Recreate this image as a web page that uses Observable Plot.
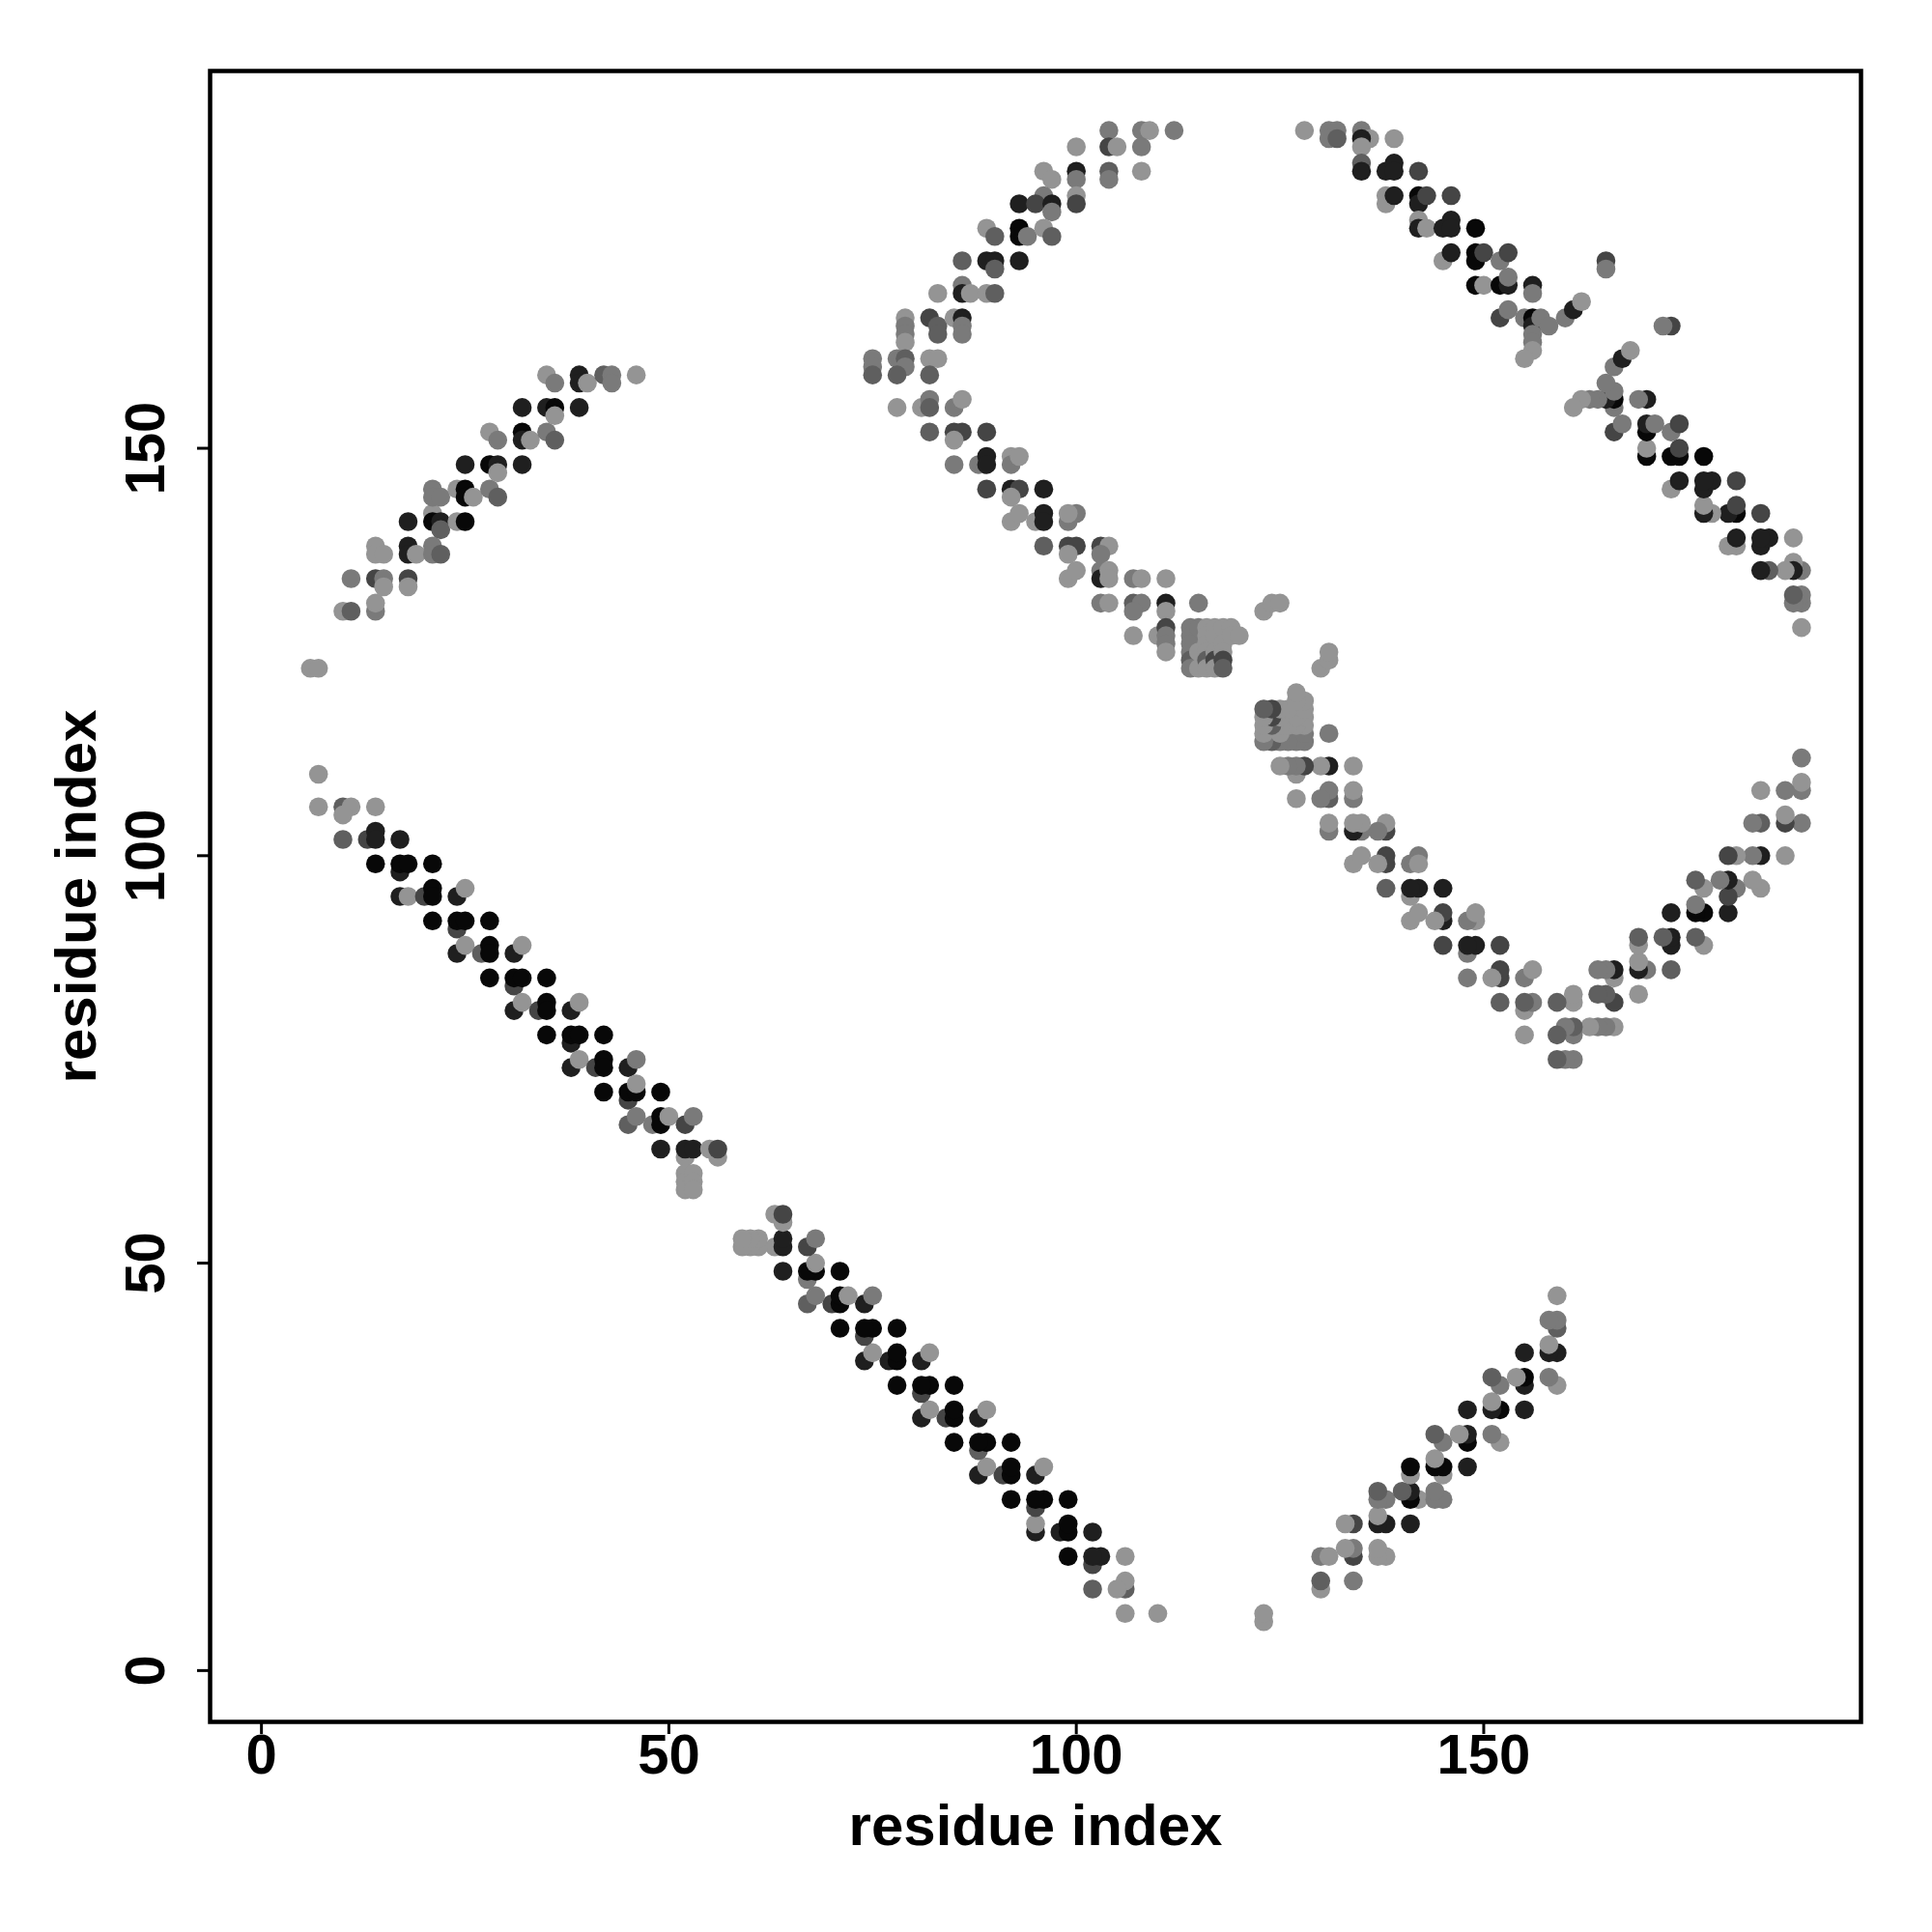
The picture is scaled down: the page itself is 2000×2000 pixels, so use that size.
<!DOCTYPE html>
<html><head><meta charset="utf-8">
<script src="https://cdn.jsdelivr.net/npm/d3@7"></script>
<script src="https://cdn.jsdelivr.net/npm/@observablehq/plot@0.6"></script>
<style>body{margin:0;background:#fff}</style>
</head><body><div id="chart"></div>
<script>
// shade levels (0 = light gray, 1 = black)
const L = 0.03, G = 0.2, M = 0.38, D = 0.55, V = 0.8, K = 0.95;

// contact pairs [residue i, residue j, shade]; each pair is drawn at (i,j) and (j,i)
const bandA = [
  [7,110,L],
  [7,106,L],[10,106,M],[11,106,L],[14,106,L],[10,105,L],
  [10,102,M],[13,102,D],[14,103,V],[14,102,V],[17,102,V],
  [17,98,V],[14,99,K],[17,99,K],[18,99,K],[21,99,K],
  [17,95,V],[18,95,L],[20,95,D],[21,96,K],[21,95,K],[24,95,V],[25,96,L],
  [24,91,D],[21,92,K],[24,92,K],[25,92,K],[28,92,K],
  [24,88,V],[25,89,L],[27,88,M],[28,89,K],[28,88,K],[31,88,V],[32,89,L],
  [31,84,D],[28,85,K],[31,85,K],[32,85,K],[35,85,K],
  [31,81,V],[32,82,L],[34,81,D],[35,82,K],[35,81,K],[38,81,V],[39,82,L],
  [38,77,V],[35,78,K],[38,78,K],[39,78,K],[42,78,K],
  [38,74,V],[39,75,L],[41,74,D],[42,75,K],[42,74,K],[45,74,V],[46,75,G],
  [45,70,D],[42,71,K],[45,71,K],[46,71,K],[49,71,K],[46,72,L],
  [45,67,M],[46,68,G],[48,67,G],[49,68,K],[49,67,K],[50,68,L],[52,67,D],[53,68,G],
  [52,63,L],[56,63,L],[49,64,V],[52,64,V],[53,64,V],[55,64,L],[56,64,D],
  [52,61,L],[52,60,L],[52,59,L],[53,61,L],[53,60,L],[53,59,L]
];
const arcB = [
  [6,123,L],[7,123,L],
  [10,130,L],[11,130,M],[14,130,G],[14,131,L],
  [11,134,G],[14,134,D],[15,134,G],[15,133,L],[18,134,D],[18,133,L],
  [14,138,L],[14,137,L],[15,137,L],[18,138,V],[18,137,V],[19,137,L],[21,138,G],[21,137,G],[22,137,M],
  [18,141,V],[21,142,L],[21,141,K],[22,141,V],[22,140,M],[24,141,L],[25,141,K],
  [21,145,G],[21,144,G],[22,144,G],[24,145,L],[25,145,K],[25,144,K],[26,144,L],[28,145,G],[29,144,M],
  [25,148,V],[28,148,K],[29,148,V],[29,147,L],[32,148,V],
  [28,152,L],[29,151,G],[32,152,K],[32,151,V],[33,151,L],[35,152,G],[36,151,M],
  [32,155,V],[35,155,V],[36,155,K],[36,154,L],[39,155,V],
  [35,159,L],[36,158,G],[39,159,V],[39,158,V],[40,158,L],[42,159,M],[43,159,G],[43,158,G],[46,159,L]
];
const bandC = [
  [104,189,G],[108,189,G],[109,189,L],[112,189,G],
  [100,187,L],[104,187,D],[105,187,L],[108,187,G],
  [96,184,L],[97,183,L],[100,184,V],[100,183,G],[104,184,M],[104,183,G],[108,184,L],
  [93,180,V],[96,181,G],[95,180,D],[97,180,V],[97,179,G],[100,181,L],[100,180,D],
  [89,177,L],[90,176,M],[93,177,K],[93,176,K],[94,176,G],[96,177,L],[97,176,M],
  [86,173,M],[89,173,V],[90,173,V],[90,172,M],[93,173,V],
  [83,169,L],[86,170,G],[86,169,V],[87,169,L],[89,169,L],[90,169,M],
  [79,166,L],[79,165,G],[79,164,G],[79,163,L],[82,166,D],[83,165,M],[83,164,M],[85,166,L],[86,166,V],[86,165,G],[86,164,G],
  [75,161,G],[75,160,G],[75,159,M],[78,161,G],[79,161,M],[79,160,G],[78,159,M],[82,161,L],[83,161,L],[82,159,M]
];
const bandD = [
  [78,155,L],[81,155,L],[82,156,G],[82,155,M],[85,155,G],[86,156,L],
  [82,152,M],[85,152,D],[86,152,D],[89,152,D],[85,151,L],
  [85,148,G],[88,148,G],[89,149,V],[89,148,V],[92,149,L],[92,148,G],[93,149,L],
  [89,145,D],[92,145,V],[93,145,D],[96,145,V],[92,144,L],
  [92,141,L],[93,142,L],[95,141,L],[96,142,V],[96,141,V],[99,141,G],[100,142,G],[99,142,L],
  [96,138,M],[99,138,D],[100,138,D],[103,138,D],[104,138,L],[99,137,L],[103,137,G],
  [99,134,L],[100,135,L],[103,135,G],[103,134,V],[104,135,L],[104,134,L],[107,134,G],[108,134,L],[111,134,L],
  [103,131,G],[104,131,L],[107,131,M],[108,131,G],[111,131,V],[115,131,G],[107,130,G],[111,130,L],
  [107,127,L],[110,127,L],[111,128,D],[111,127,G],[111,126,G],[111,125,L],
  [114,128,G],[114,127,G],[114,126,G],[114,125,G],[114,124,M],[114,123,G],
  [115,128,G],[115,125,L],[115,123,L],
  [116,128,L],[116,127,L],[116,126,L],[116,125,L],[116,124,M],[116,123,L],
  [117,128,L],[117,127,L],[117,125,L],[117,124,D],[117,123,L],
  [118,128,L],[118,126,L],[118,125,L],[118,124,D],[118,123,M],
  [119,128,L],[119,127,L],[120,127,L],
  [123,130,L],[124,131,L],[125,131,L]
];
const bandE = [
  [128,189,L],[131,189,G],[132,189,G],[135,189,G],[136,188,L],[139,188,L],
  [131,188,G],[132,188,M],[135,188,V],[135,187,L],
  [135,185,M],[135,184,V],[138,184,V],[139,185,V],[139,184,V],[142,184,D],
  [138,181,L],[138,180,L],[139,181,V],[142,181,K],[142,180,V],[143,181,D],[146,181,D],
  [142,178,L],[142,177,V],[143,177,L],[145,177,V],[146,178,V],[146,177,V],[149,177,K],
  [145,173,L],[146,174,V],[149,174,K],[149,173,K],[150,174,D],[152,173,G],[153,174,D],
  [149,170,K],[150,170,L],[152,170,K],[153,170,V],[153,171,G],[156,170,V],
  [165,173,D],[165,172,G],
  [156,169,G],[152,166,D],[153,167,G],[155,166,G],[156,166,K],[156,165,V],[157,166,G],
  [156,164,G],[156,163,G],[156,162,L],[155,161,L],[158,165,G],[160,166,G],[161,167,V],[162,168,L]
];

const xTicks = [0, 50, 100, 150];
const yTicks = [0, 50, 100, 150];
const xTitle = "residue index";
const yTitle = "residue index";

const pairs = [...bandA, ...arcB, ...bandC, ...bandD, ...bandE];
const points = [];
for (const [i, j, v] of pairs) {
  points.push({x: i, y: j, v});
  points.push({x: j, y: i, v});
}

const font = "'Liberation Sans', Arial, Helvetica, sans-serif";
const chart = Plot.plot({
  width: 2000, height: 2000,
  marginLeft: 217, marginRight: 74, marginTop: 73, marginBottom: 218,
  style: {fontFamily: font, fontWeight: "bold", background: "white", color: "black"},
  x: {domain: [-6.3, 196.3]},
  y: {domain: [-6.3, 196.3]},
  color: {type: "linear", domain: [0, 1], range: ["#999999", "#000000"], interpolate: "rgb"},
  marks: [
    Plot.dot(points, {x: "x", y: "y", r: 9.8, fill: "v"}),
    Plot.frame({stroke: "black", strokeWidth: 4.5}),
    Plot.axisX(xTicks, {tickSize: 13, strokeWidth: 3, tickFormat: () => "", label: null}),
    Plot.axisY(yTicks, {tickSize: 13, strokeWidth: 3, tickFormat: () => "", label: null}),
    Plot.text(xTicks, {x: d => d, text: d => String(d), frameAnchor: "bottom", dy: 53, fontSize: 58, fill: "black"}),
    Plot.text(yTicks, {y: d => d, text: d => String(d), frameAnchor: "left", textAnchor: "middle", dx: -66, rotate: -90, fontSize: 58, fill: "black"}),
    Plot.text([xTitle], {text: d => d, frameAnchor: "bottom", dy: 127, fontSize: 60, fill: "black"}),
    Plot.text([yTitle], {text: d => d, frameAnchor: "left", textAnchor: "middle", dx: -138, rotate: -90, fontSize: 60, fill: "black"})
  ]
});
document.getElementById("chart").appendChild(chart);
</script>
</body></html>
